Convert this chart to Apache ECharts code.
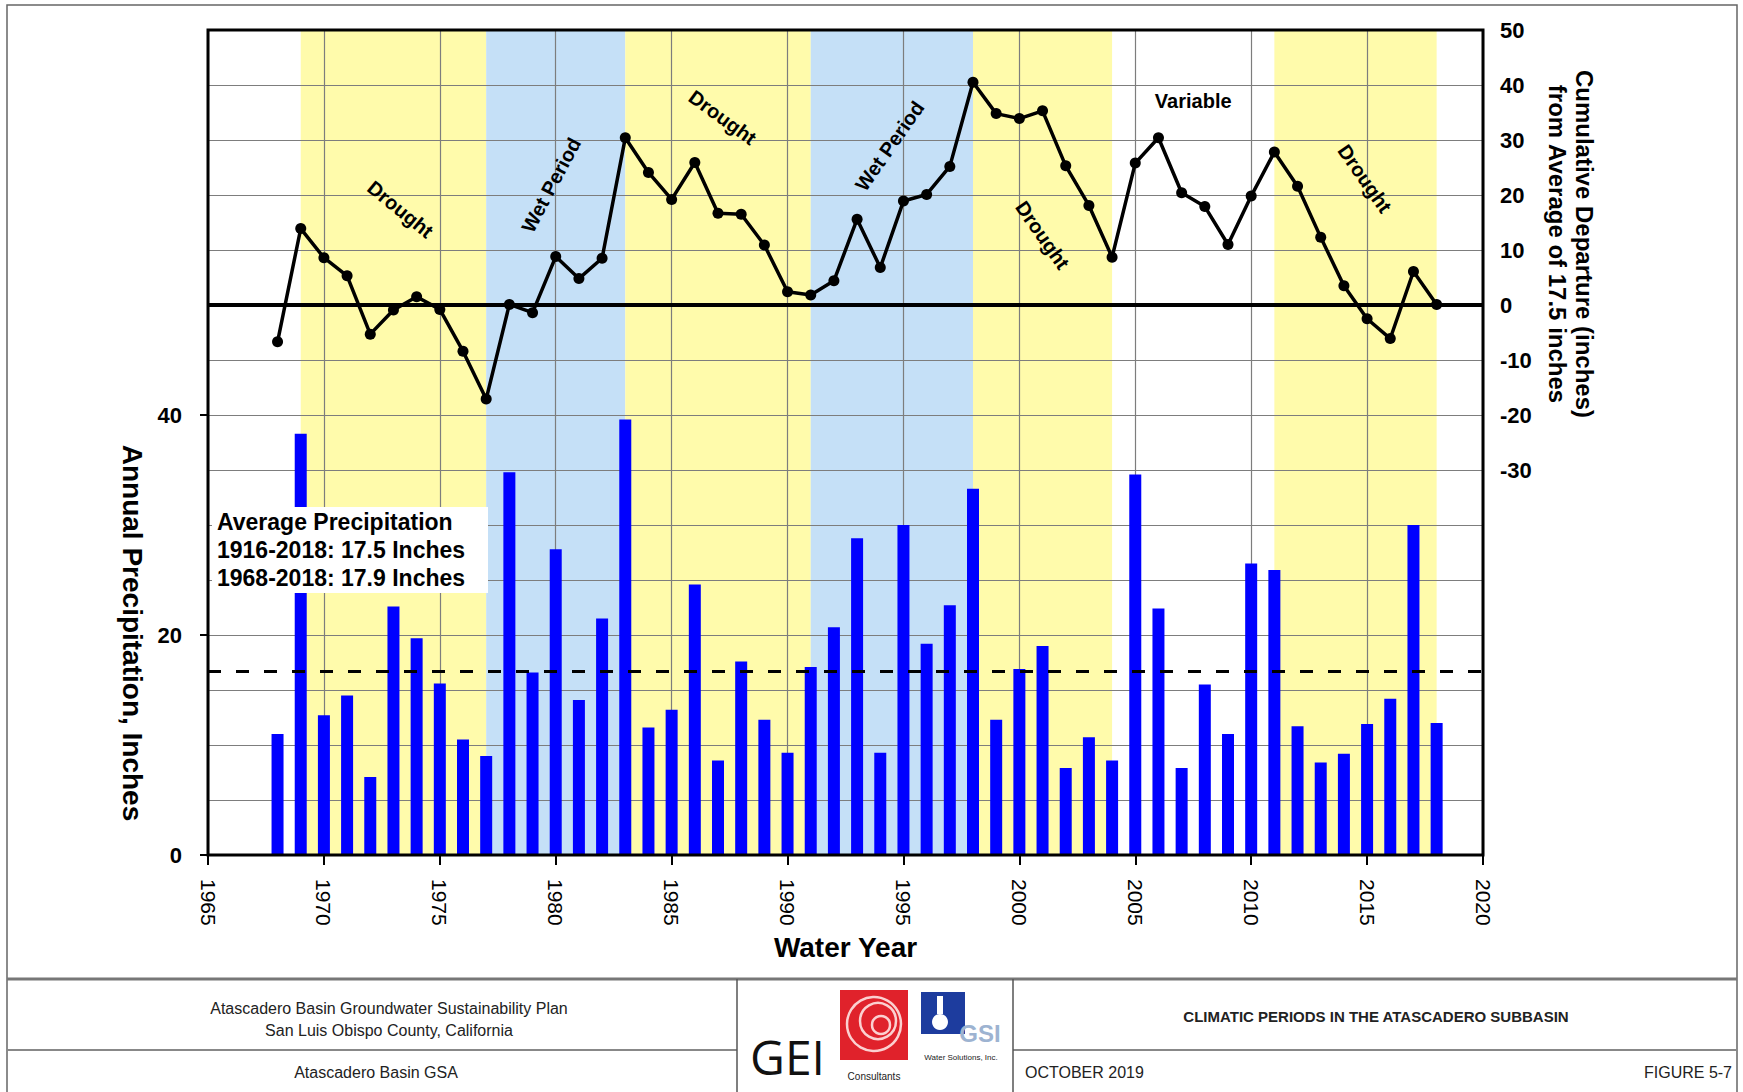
<!DOCTYPE html>
<html>
<head>
<meta charset="utf-8">
<title>Climatic Periods in the Atascadero Subbasin</title>
<script src="https://cdn.jsdelivr.net/npm/echarts@6/dist/echarts.min.js"></script>
<style>
  html, body { margin: 0; padding: 0; background: #fff; }
  #chart { width: 1743px; height: 1092px; }
</style>
</head>
<body>
<div id="chart"></div>
<script>
// water years shown on the chart
const years = [
  1968, 1969, 1970, 1971, 1972, 1973, 1974, 1975, 1976, 1977,
  1978, 1979, 1980, 1981, 1982, 1983, 1984, 1985, 1986, 1987,
  1988, 1989, 1990, 1991, 1992, 1993, 1994, 1995, 1996, 1997,
  1998, 1999, 2000, 2001, 2002, 2003, 2004, 2005, 2006, 2007,
  2008, 2009, 2010, 2011, 2012, 2013, 2014, 2015, 2016, 2017, 2018
]

// annual precipitation, inches (bars, left axis)
const precipitation = [
  11.0, 38.3, 12.7, 14.5, 7.1, 22.6, 19.7, 15.6, 10.5, 9.0,
  34.8, 16.6, 27.8, 14.1, 21.5, 39.6, 11.6, 13.2, 24.6, 8.6,
  17.6, 12.3, 9.3, 17.1, 20.7, 28.8, 9.3, 30.0, 19.2, 22.7,
  33.3, 12.3, 16.9, 19.0, 7.9, 10.7, 8.6, 34.6, 22.4, 7.9,
  15.5, 11.0, 26.5, 25.9, 11.7, 8.4, 9.2, 11.9, 14.2, 30.0, 12.0
]

// cumulative departure from average, inches (line, right axis)
const cumulativeDeparture = [
  -6.7, 13.9, 8.6, 5.3, -5.3, -0.9, 1.5, -0.8, -8.4, -17.1,
  0.1, -1.4, 8.8, 4.8, 8.5, 30.4, 24.1, 19.2, 25.9, 16.7,
  16.5, 10.9, 2.4, 1.8, 4.4, 15.6, 6.8, 18.9, 20.1, 25.2,
  40.5, 34.8, 33.9, 35.3, 25.3, 18.1, 8.7, 25.8, 30.4, 20.4,
  17.9, 11.0, 19.8, 27.8, 21.6, 12.3, 3.5, -2.5, -6.1, 6.1, 0.1
]

// dashed average line (left axis)
const averagePrecip = 16.7

// climatic periods
const periodKind = ['Drought', 'Wet Period', 'Drought', 'Wet Period', 'Drought', 'Variable', 'Drought']
const periodStart = [1969, 1977, 1983, 1991, 1998, 2004, 2011]
const periodEnd = [1977, 1983, 1991, 1998, 2004, 2011, 2018]

// period label anchors: year, cumulative departure, angle (deg)
const labelText = ['Drought', 'Wet Period', 'Drought', 'Wet Period', 'Drought', 'Variable', 'Drought']
const labelYear = [1973.3, 1979.8, 1987.2, 1994.4, 2001.0, 2007.5, 2014.9]
const labelValue = [17.4, 21.8, 34.1, 28.9, 12.7, 37.1, 23.0]
const labelAngle = [-39, 62, -36, 55, -55, 0, -55]

// axis tick labels
const leftTicks = [0, 20, 40]
const rightLabelMin = -30

const bandColors = { Drought: '#fffbab', 'Wet Period': '#c5e0f7', Variable: 'rgba(0,0,0,0)' }
const font = '"Liberation Sans", Arial, sans-serif'
const gridColor = '#7d7d7d'

const chart = echarts.init(document.getElementById('chart'), null, { renderer: 'svg' })

chart.setOption({
  animation: false,
  textStyle: { fontFamily: font, color: '#000' },
  grid: {
    left: 208, right: 260, top: 30, bottom: 237,
    show: true, borderColor: '#000', borderWidth: 3, backgroundColor: 'transparent',
    z: 10, containLabel: false, outerBoundsMode: 'none'
  },
  xAxis: {
    type: 'value', min: 1965, max: 2020, interval: 5, z: 2,
    axisLine: { show: false },
    axisTick: { show: true, length: 10, lineStyle: { color: '#000', width: 2 } },
    axisLabel: {
      rotate: -90, margin: 24, fontSize: 21, color: '#000',
      showMinLabel: true, showMaxLabel: true,
      formatter: v => String(v)
    },
    splitLine: { show: true, lineStyle: { color: gridColor, width: 1.2 } },
    name: 'Water Year', nameLocation: 'middle', nameGap: 76,
    nameTextStyle: { fontSize: 28, fontWeight: 'bold', color: '#000' }
  },
  yAxis: [
    {
      type: 'value', position: 'left', min: 0, max: 75, interval: 5, z: 2,
      axisLine: { show: false },
      axisTick: { show: true, length: 8, customValues: leftTicks, lineStyle: { color: '#000', width: 2 } },
      axisLabel: { customValues: leftTicks, fontSize: 22, fontWeight: 'bold', color: '#000', margin: 26 },
      splitLine: { show: false }
    },
    {
      type: 'value', position: 'right', min: -100, max: 50, interval: 10, z: 2,
      axisLine: { show: false },
      axisTick: { show: false },
      axisLabel: {
        fontSize: 22, fontWeight: 'bold', color: '#000', margin: 17, showMaxLabel: true,
        formatter: v => (v >= rightLabelMin ? String(v) : '')
      },
      splitLine: { show: true, lineStyle: { color: gridColor, width: 1.2 } }
    }
  ],
  series: [
    {
      type: 'custom', name: 'periods', xAxisIndex: 0, yAxisIndex: 1, z: 1, silent: true,
      encode: { x: [0, 1], y: 2 },
      data: periodStart.map((s, i) => [s, periodEnd[i], i]),
      renderItem: (params, api) => {
        const cs = params.coordSys
        const x0 = api.coord([api.value(0), 0])[0]
        const x1 = api.coord([api.value(1), 0])[0]
        return {
          type: 'rect',
          shape: { x: x0, y: cs.y, width: x1 - x0, height: cs.height },
          style: { fill: bandColors[periodKind[api.value(2)]] }
        }
      }
    },
    {
      type: 'bar', name: 'Annual Precipitation', xAxisIndex: 0, yAxisIndex: 0, z: 3,
      barWidth: 12,
      itemStyle: { color: '#0000ff' },
      data: years.map((y, i) => [y, precipitation[i]]),
      markLine: {
        silent: true, symbol: 'none', label: { show: false },
        lineStyle: { color: '#000', width: 3, type: [13, 15] },
        data: [{ yAxis: averagePrecip }]
      }
    },
    {
      type: 'line', name: 'Cumulative Departure', xAxisIndex: 0, yAxisIndex: 1, z: 4,
      symbol: 'circle', symbolSize: 11,
      lineStyle: { color: '#000', width: 3.5 },
      itemStyle: { color: '#000' },
      data: years.map((y, i) => [y, cumulativeDeparture[i]]),
      markLine: {
        silent: true, symbol: 'none', label: { show: false },
        lineStyle: { color: '#000', width: 4, type: 'solid' },
        data: [{ yAxis: 0 }]
      }
    }
  ]
})

// period labels placed from data coordinates
const periodLabels = labelText.map((t, i) => {
  const p = chart.convertToPixel({ seriesIndex: 2 }, [labelYear[i], labelValue[i]])
  return {
    type: 'text', x: p[0], y: p[1], rotation: labelAngle[i] * Math.PI / 180, z: 20,
    style: { text: t, font: 'bold 20px ' + font, fill: '#000', align: 'center', verticalAlign: 'middle' }
  }
})

const boldText = (text, x, y, size, extra) => ({
  type: 'text', x, y, z: 20,
  style: Object.assign({ text, font: 'bold ' + size + 'px ' + font, fill: '#000', align: 'center', verticalAlign: 'middle' }, extra || {})
})
const plainText = (text, x, y, size, align) => ({
  type: 'text', x, y, z: 20,
  style: { text, font: size + 'px ' + font, fill: '#222', align: align || 'center', verticalAlign: 'middle' }
})
const hLine = (x1, x2, y, w, c) => ({ type: 'line', z: 20, shape: { x1, y1: y, x2, y2: y }, style: { stroke: c, lineWidth: w } })
const vLine = (x, y1, y2, w, c) => ({ type: 'line', z: 20, shape: { x1: x, y1, x2: x, y2 }, style: { stroke: c, lineWidth: w } })

chart.setOption({
  graphic: [
    ...periodLabels,
    // average precipitation note
    { type: 'rect', z: 15, shape: { x: 212, y: 507, width: 276, height: 86 }, style: { fill: '#fff' } },
    boldText('Average Precipitation', 217, 522, 23, { align: 'left' }),
    boldText('1916-2018: 17.5 Inches', 217, 550, 23, { align: 'left' }),
    boldText('1968-2018: 17.9 Inches', 217, 578, 23, { align: 'left' }),
    // axis titles
    Object.assign(boldText('Annual Precipitation, Inches', 132, 633, 28), { rotation: -Math.PI / 2 }),
    Object.assign(boldText('Cumulative Departure (inches)\nfrom Average of 17.5 inches', 1571, 244, 24, { lineHeight: 27 }), { rotation: -Math.PI / 2 }),
    // page frame and title block
    { type: 'rect', z: 20, shape: { x: 7, y: 5, width: 1730, height: 1100 }, style: { fill: 'none', stroke: '#666', lineWidth: 1.5 } },
    hLine(7, 1737, 979, 3, '#777'),
    hLine(7, 737, 1050, 2, '#888'),
    hLine(1013, 1737, 1050, 2, '#888'),
    vLine(737, 979, 1092, 1.5, '#555'),
    vLine(1013, 979, 1092, 1.5, '#555'),
    plainText('Atascadero Basin Groundwater Sustainability Plan', 389, 1008, 16),
    plainText('San Luis Obispo County, California', 389, 1030, 16),
    plainText('Atascadero Basin GSA', 376, 1072, 16),
    boldText('CLIMATIC PERIODS IN THE ATASCADERO SUBBASIN', 1376, 1016, 15, { fill: '#222' }),
    plainText('OCTOBER 2019', 1025, 1072, 16, 'left'),
    plainText('FIGURE 5-7', 1732, 1072, 16, 'right'),
    // GEI logo
    { type: 'text', z: 20, x: 750, y: 1056,
      style: { text: 'GEI', font: '48px "Open Sans", sans-serif', fill: '#111', align: 'left', verticalAlign: 'middle' } },
    { type: 'rect', z: 20, shape: { x: 840, y: 990, width: 68, height: 70 }, style: { fill: '#e0222b' } },
    { type: 'circle', z: 21, shape: { cx: 874, cy: 1024, r: 27 }, style: { fill: 'none', stroke: '#fbd0d0', lineWidth: 2.5 } },
    { type: 'circle', z: 21, shape: { cx: 878, cy: 1021, r: 18 }, style: { fill: 'none', stroke: '#fbd0d0', lineWidth: 2.5 } },
    { type: 'circle', z: 21, shape: { cx: 881, cy: 1025, r: 9 }, style: { fill: 'none', stroke: '#fbd0d0', lineWidth: 2.5 } },
    plainText('Consultants', 874, 1076, 10),
    // GSI logo
    { type: 'rect', z: 20, shape: { x: 921, y: 992, width: 44, height: 42 }, style: { fill: '#1d3c9e' } },
    { type: 'circle', z: 21, shape: { cx: 940, cy: 1022, r: 8 }, style: { fill: '#fff' } },
    { type: 'rect', z: 21, shape: { x: 937, y: 996, width: 6, height: 18 }, style: { fill: '#fff' } },
    boldText('GSI', 980, 1033, 24, { fill: '#9db3d1' }),
    plainText('Water Solutions, Inc.', 961, 1057, 8)
  ]
})

window.addEventListener('resize', () => chart.resize())
</script>
</body>
</html>
